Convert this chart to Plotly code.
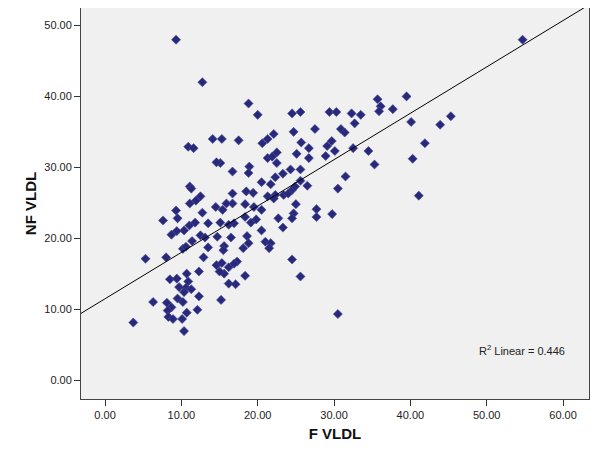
import numpy as np
import plotly.graph_objects as go

# F VLDL (x) and NF VLDL (y)
f_vldl = [
    9.3, 12.75, 14.1, 15.3, 17.5, 10.9, 11.6,
    15.1, 14.6, 16.7, 11.1, 11.3, 12.5, 11.9, 11.1, 16.7, 16.7, 15.9, 14.5, 15.4,
    9.3, 12.75, 9.5, 7.6, 11.8, 11.05, 13.5, 15.1, 16.2, 16.9, 10.35, 9.4, 8.7,
    12.5, 13.1, 14.7, 16.5, 11.4, 10.2, 10.6, 13.5, 15.6, 15.5, 5.3, 8.0, 12.9, 17.3,
    14.6, 15.3, 16.2, 15.6, 15.0, 16.9,
    8.5, 9.4, 10.7, 12.3, 10.9, 9.7, 10.6, 11.3, 10.35, 12.3, 16.2, 17.1, 6.3, 8.1,
    9.5, 10.2, 8.7, 8.2, 10.7, 12.1, 8.3, 8.9, 10.1, 15.2, 3.7, 10.35,
    18.8, 20.0, 24.5, 25.6, 29.4, 30.3, 32.3, 33.5, 35.7, 36.1, 35.9, 32.7, 30.9,
    31.4, 27.5, 24.7, 22.1, 21.3, 20.6, 25.7, 29.7, 29.1, 30.1, 32.5, 34.5, 35.3,
    26.7, 22.5, 21.3, 21.9, 22.5, 25.1, 26.7, 28.9, 18.9, 18.8, 24.3, 25.6, 23.3,
    22.3, 20.5, 21.7, 25.6, 26.5, 31.5, 30.5, 18.5, 19.4, 21.3, 23.4, 24.5, 24.0,
    24.9, 22.3,
    18.35, 19.5, 20.5, 22.1, 25.0, 24.7, 24.5, 27.7, 27.7, 29.75, 22.7, 23.3, 18.35,
    19.1, 19.8, 20.5, 18.6, 18.8, 18.1, 21.0, 21.7, 21.5, 24.5, 25.6, 18.35,
    54.7, 39.5, 37.7, 40.1, 45.3, 43.9, 41.9, 40.3, 41.1, 30.5,
]
nf_vldl = [
    48.0, 42.0, 34.0, 34.0, 33.8, 32.9, 32.7,
    30.6, 30.7, 29.4, 27.3, 27.0, 25.9, 25.3, 24.9, 26.3, 24.9, 24.9, 24.4, 24.0,
    23.9, 23.6, 22.8, 22.5, 22.2, 21.8, 22.1, 22.2, 21.9, 22.1, 21.1, 21.0, 20.5,
    20.4, 20.1, 20.2, 20.1, 19.6, 18.5, 18.8, 18.7, 18.9, 18.3, 17.1, 17.3, 17.3, 16.7,
    16.2, 16.5, 15.9, 15.0, 15.3, 16.4,
    14.2, 14.3, 15.0, 15.3, 13.9, 13.1, 13.0, 12.8, 12.4, 11.8, 13.6, 13.5, 11.0, 10.9,
    11.5, 11.0, 10.25, 9.8, 9.5, 9.9, 8.9, 8.6, 8.6, 11.3, 8.1, 6.9,
    39.0, 37.4, 37.6, 37.8, 37.8, 37.8, 37.6, 37.4, 39.6, 38.6, 37.9, 36.2, 35.4,
    34.9, 35.4, 35.0, 34.7, 34.0, 33.4, 33.5, 33.7, 33.0, 32.3, 32.7, 32.3, 30.4,
    32.7, 32.1, 31.3, 31.5, 30.6, 31.9, 31.3, 31.6, 30.1, 29.2, 29.7, 29.7, 29.1,
    28.6, 27.9, 27.6, 28.1, 27.4, 28.7, 27.0, 26.6, 26.4, 25.9, 26.1, 26.8, 26.3,
    27.3, 26.1,
    24.8, 24.4, 24.0, 25.6, 24.8, 23.5, 22.8, 24.1, 23.0, 23.4, 22.8, 21.5, 23.0,
    22.2, 22.65, 21.1, 20.3, 19.3, 18.6, 19.5, 19.3, 18.6, 17.0, 14.6, 14.7,
    48.0, 40.0, 38.2, 36.4, 37.2, 36.0, 33.4, 31.2, 26.0, 9.3,
]
x_ticks = [0, 10, 20, 30, 40, 50, 60]
y_ticks = [0, 10, 20, 30, 40, 50]
r2_label = "R<sup>2</sup> Linear = 0.446"

# linear fit line as drawn in the chart (intercept, slope)
fit_intercept = 11.46
fit_slope = 0.654

x_range = [-3.15, 63.4]
y_range = [-2.68, 52.47]

line_x = np.array(x_range)
line_y = fit_intercept + fit_slope * line_x

fig = go.Figure()
fig.add_trace(go.Scatter(
    x=f_vldl, y=nf_vldl, mode="markers",
    marker=dict(symbol="diamond", size=7, color="#28297a",
                line=dict(width=0.6, color="#4a4c98")),
    showlegend=False, hoverinfo="x+y",
))
fig.add_trace(go.Scatter(
    x=line_x, y=line_y, mode="lines",
    line=dict(color="black", width=1), showlegend=False, hoverinfo="skip",
))

font_name = "Liberation Sans, Arial"
axis_common = dict(
    showgrid=False, zeroline=False, ticks="outside", ticklen=6, tickwidth=1,
    tickcolor="#333", showline=True, linecolor="#444", linewidth=1, mirror=True,
    tickfont=dict(family=font_name, size=11, color="#222"),
    tickformat=".2f", automargin=False,
)
# page body has an 8px margin, so the figure is sized a bit smaller
fig.update_layout(
    width=593, height=442,
    margin=dict(l=73, r=12, t=0, b=51),
    paper_bgcolor="white", plot_bgcolor="#f0f0f0",
    xaxis=dict(axis_common, range=x_range, tickvals=x_ticks,
               title=dict(text="<b>F VLDL</b>", standoff=8,
                          font=dict(family=font_name, size=15, color="#111"))),
    yaxis=dict(axis_common, range=y_range, tickvals=y_ticks,
               title=dict(text="<b>NF VLDL</b>", standoff=4,
                          font=dict(family=font_name, size=15, color="#111"))),
    annotations=[dict(
        text=r2_label, xref="paper", yref="paper", x=0.957, y=0.125,
        xanchor="right", yanchor="middle", showarrow=False,
        font=dict(family=font_name, size=11, color="#222"),
    )],
)

fig.write_html("out.html")
